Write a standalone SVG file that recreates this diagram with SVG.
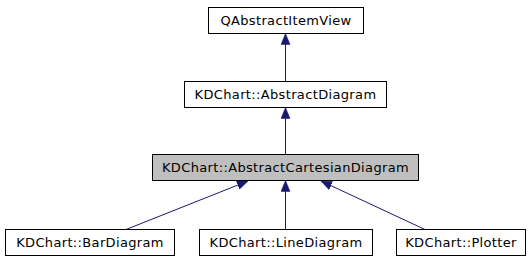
<svg xmlns="http://www.w3.org/2000/svg" width="531" height="261" viewBox="0 0 531 261">
  <style>
    .box { fill: #ffffff; stroke: #000000; stroke-width: 1; }
    .cur { fill: #bfbfbf; stroke: #000000; stroke-width: 1; }
    .lbl { font-family: "DejaVu Sans", sans-serif; font-size: 13px; letter-spacing: 0.35px; fill: #000000; text-anchor: middle; }
    .edge { stroke: #191970; stroke-width: 1; fill: none; marker-end: url(#tri); }
  </style>
  <defs>
    <marker id="tri" markerUnits="userSpaceOnUse" markerWidth="11" markerHeight="10" refX="11" refY="4.5" orient="auto" viewBox="0 0 11 9">
      <polygon points="0,0 11,4.5 0,9" fill="#191970" stroke="#191970" stroke-width="0.5"/>
    </marker>
  </defs>
  <rect width="531" height="261" fill="#ffffff"/>

  <g id="connectors">
    <line class="edge" x1="285.5" y1="81.5" x2="285.5" y2="33.5"/>
    <line class="edge" x1="285.5" y1="154.5" x2="285.5" y2="107.5"/>
    <line class="edge" x1="285.5" y1="229.5" x2="285.5" y2="180.5"/>
    <line class="edge" x1="126" y1="229.5" x2="248" y2="181"/>
    <line class="edge" x1="425" y1="229.5" x2="321" y2="181"/>
  </g>

  <g id="QAbstractItemView">
    <rect class="box" x="208.5" y="7.5" width="155" height="26"/>
    <text class="lbl" x="286" y="25">QAbstractItemView</text>
  </g>
  <g id="AbstractDiagram">
    <rect class="box" x="184.5" y="81.5" width="202" height="26"/>
    <text class="lbl" x="285.5" y="99">KDChart::AbstractDiagram</text>
  </g>
  <g id="AbstractCartesianDiagram">
    <rect class="cur" x="152.5" y="154.5" width="266" height="26"/>
    <text class="lbl" x="285.5" y="172">KDChart::AbstractCartesianDiagram</text>
  </g>
  <g id="BarDiagram">
    <rect class="box" x="5.5" y="229.5" width="169" height="26"/>
    <text class="lbl" x="90" y="247">KDChart::BarDiagram</text>
  </g>
  <g id="LineDiagram">
    <rect class="box" x="199.5" y="229.5" width="173" height="26"/>
    <text class="lbl" x="286" y="247">KDChart::LineDiagram</text>
  </g>
  <g id="Plotter">
    <rect class="box" x="396.5" y="229.5" width="129" height="26"/>
    <text class="lbl" x="461" y="247">KDChart::Plotter</text>
  </g>
</svg>
